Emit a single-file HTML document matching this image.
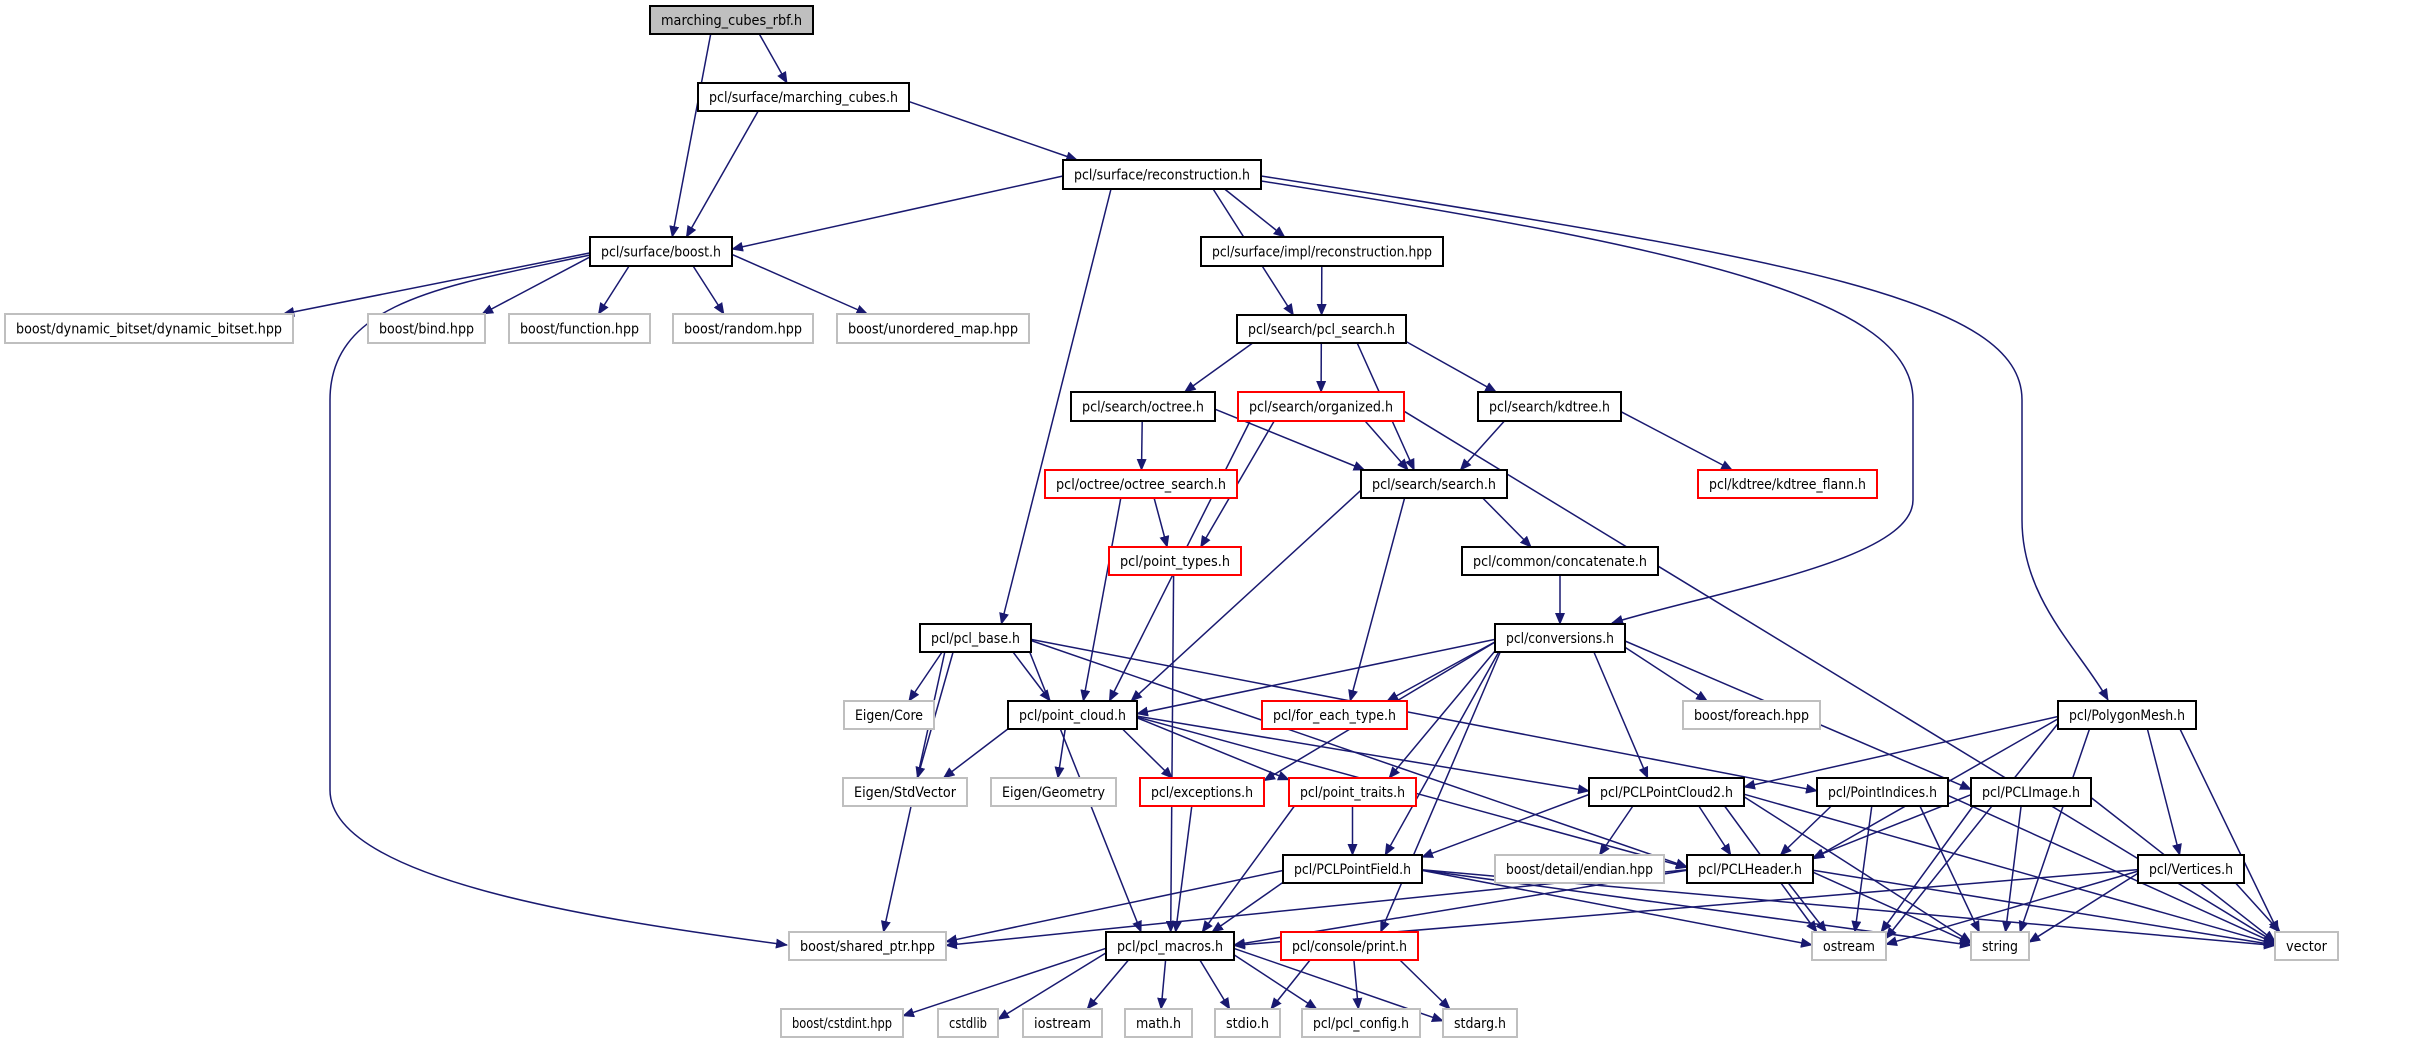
<!DOCTYPE html>
<html><head><meta charset="utf-8">
<style>
html,body{margin:0;padding:0;background:#fff;}
svg{display:block;}
text{font-family:"DejaVu Sans","Liberation Sans",sans-serif;font-size:14px;fill:#000;}
</style></head>
<body>
<svg id="g" width="2409" height="1045" viewBox="0 0 2409 1045" xmlns="http://www.w3.org/2000/svg">
<defs>
<marker id="a" markerWidth="12" markerHeight="10" refX="11" refY="5" orient="auto" markerUnits="userSpaceOnUse">
<path d="M0,0 L12,5 L0,10 Z" fill="#191970"/>
</marker>
</defs>
<g id="edges" fill="none" stroke="#191970" stroke-width="1.5"></g>
<g id="nodes"></g>
</svg>
<script>
var N={
rbf:[650,6,813,34,"marching_cubes_rbf.h","g"],
mc:[698,83,909,111,"pcl/surface/marching_cubes.h","b"],
rec:[1063,160,1261,189,"pcl/surface/reconstruction.h","b"],
bst:[590,237,732,266,"pcl/surface/boost.h","b"],
dyn:[5,314,293,343,"boost/dynamic_bitset/dynamic_bitset.hpp","x"],
bind:[368,314,485,343,"boost/bind.hpp","x"],
fun:[509,314,650,343,"boost/function.hpp","x"],
rnd:[673,314,813,343,"boost/random.hpp","x"],
um:[837,314,1029,343,"boost/unordered_map.hpp","x"],
rhpp:[1201,237,1443,266,"pcl/surface/impl/reconstruction.hpp","b"],
ps:[1237,315,1406,343,"pcl/search/pcl_search.h","b"],
oct:[1071,392,1215,421,"pcl/search/octree.h","b"],
org:[1238,392,1404,421,"pcl/search/organized.h","r"],
kdt:[1478,392,1621,421,"pcl/search/kdtree.h","b"],
ocs:[1045,470,1237,498,"pcl/octree/octree_search.h","r"],
sea:[1361,470,1507,498,"pcl/search/search.h","b"],
flann:[1698,470,1877,498,"pcl/kdtree/kdtree_flann.h","r"],
pt:[1109,547,1241,575,"pcl/point_types.h","r"],
cat:[1462,547,1658,575,"pcl/common/concatenate.h","b"],
base:[920,624,1031,652,"pcl/pcl_base.h","b"],
conv:[1495,624,1625,652,"pcl/conversions.h","b"],
ecore:[844,701,934,729,"Eigen/Core","x"],
pc:[1008,701,1137,729,"pcl/point_cloud.h","b"],
fet:[1262,701,1407,729,"pcl/for_each_type.h","r"],
fe:[1683,701,1820,729,"boost/foreach.hpp","x"],
pm:[2058,701,2196,729,"pcl/PolygonMesh.h","b"],
esv:[843,778,967,806,"Eigen/StdVector","x"],
egeo:[991,778,1116,806,"Eigen/Geometry","x"],
exc:[1140,778,1264,806,"pcl/exceptions.h","r"],
ptr:[1289,778,1416,806,"pcl/point_traits.h","r"],
pc2:[1589,778,1744,806,"pcl/PCLPointCloud2.h","b"],
pi:[1817,778,1948,806,"pcl/PointIndices.h","b"],
img:[1971,778,2091,806,"pcl/PCLImage.h","b"],
pf:[1283,855,1422,883,"pcl/PCLPointField.h","b"],
end:[1495,855,1664,883,"boost/detail/endian.hpp","x"],
hdr:[1687,855,1813,883,"pcl/PCLHeader.h","b"],
vert:[2138,855,2244,883,"pcl/Vertices.h","b"],
sp:[789,932,946,960,"boost/shared_ptr.hpp","x"],
mac:[1106,932,1234,960,"pcl/pcl_macros.h","b"],
prn:[1281,932,1418,960,"pcl/console/print.h","r"],
ost:[1812,932,1886,960,"ostream","x"],
str:[1971,932,2029,960,"string","x"],
vec:[2275,932,2338,960,"vector","x"],
cst:[781,1009,903,1037,"boost/cstdint.hpp","x"],
cstd:[938,1009,998,1037,"cstdlib","x"],
ios:[1023,1009,1102,1037,"iostream","x"],
math:[1125,1009,1192,1037,"math.h","x"],
stdio:[1215,1009,1280,1037,"stdio.h","x"],
cfg:[1302,1009,1420,1037,"pcl/pcl_config.h","x"],
sarg:[1443,1009,1517,1037,"stdarg.h","x"]
};
var E="rbf mc,rbf bst,mc bst,mc rec,rec bst,rec rhpp,rec ps,rec base,bst dyn,bst bind,bst fun,bst rnd,bst um,rhpp ps,ps oct,ps org,ps sea,ps kdt,oct ocs,oct sea,org sea,org pt,org pc,org vec,kdt sea,kdt flann,ocs pt,ocs pc,sea cat,sea pc,sea fet,pt mac,cat conv,base ecore,base pc,base esv,base sp,base mac,base pi,base hdr,conv pc,conv fet,conv fe,conv exc,conv ptr,conv pc2,conv img,conv pf,conv prn,pc esv,pc egeo,pc exc,pc ptr,pc hdr,pc pc2,exc mac,ptr pf,ptr mac,pm pc2,pm hdr,pm vert,pm ost,pm str,pm vec,pc2 pf,pc2 end,pc2 hdr,pc2 ost,pc2 str,pc2 vec,pi hdr,pi ost,pi str,pi vec,img hdr,img ost,img str,img vec,pf sp,pf mac,pf ost,pf str,pf vec,hdr sp,hdr mac,hdr ost,hdr str,hdr vec,vert mac,vert ost,vert str,vert vec,mac cst,mac cstd,mac ios,mac math,mac stdio,mac cfg,mac sarg,prn stdio,prn cfg,prn sarg".split(",");
function c(n){return [(n[0]+n[2])/2,(n[1]+n[3])/2];}
function clip(n,p,q){ // point on rect n boundary along segment from inside p toward q
 var dx=q[0]-p[0],dy=q[1]-p[1],t=1e9;
 if(dx>0)t=Math.min(t,(n[2]-p[0])/dx); if(dx<0)t=Math.min(t,(n[0]-p[0])/dx);
 if(dy>0)t=Math.min(t,(n[3]-p[1])/dy); if(dy<0)t=Math.min(t,(n[1]-p[1])/dy);
 return [p[0]+dx*t,p[1]+dy*t];}
var eg=document.getElementById('edges'),s="";
E.forEach(function(e){var k=e.split(" "),a=N[k[0]],b=N[k[1]];
 var ca=c(a),cb=c(b);
 var sx=ca[0]+(cb[0]-ca[0])*0.25; sx=Math.max(a[0]+8,Math.min(a[2]-8,sx));
 var p0=clip(a,[sx,ca[1]],cb);
 var tx=cb[0]+(ca[0]-cb[0])*0.12; tx=Math.max(b[0]+6,Math.min(b[2]-6,tx));
 var p1=clip(b,[tx,cb[1]],p0);
 s+='<path d="M'+p0[0].toFixed(1)+','+p0[1].toFixed(1)+' L'+p1[0].toFixed(1)+','+p1[1].toFixed(1)+'" marker-end="url(#a)"/>';
});
s+='<path d="M590,255 C450,285 330,300 330,400 L330,790 C330,880 600,920 787,945" marker-end="url(#a)"/>';
s+='<path d="M1261,181 C1700,250 1913,300 1913,400 L1913,500 C1913,560 1720,590 1612,623" marker-end="url(#a)"/>';
s+='<path d="M1261,176 C1800,260 2022,300 2022,400 L2022,520 C2022,600 2080,650 2108,700" marker-end="url(#a)"/>';
eg.innerHTML=s;
var ng=document.getElementById('nodes'),h="";
for(var k in N){var n=N[k];var st=n[5]=="x"?"#bfbfbf":(n[5]=="r"?"#ff0000":"#000");
 var fill=n[5]=="g"?"#bfbfbf":"#fff";
 h+='<rect x="'+n[0]+'" y="'+n[1]+'" width="'+(n[2]-n[0])+'" height="'+(n[3]-n[1])+'" fill="'+fill+'" stroke="'+st+'" stroke-width="2"/>';
 var w=n[2]-n[0]-22;
 h+='<text x="'+((n[0]+n[2])/2)+'" y="'+((n[1]+n[3])/2+5)+'" text-anchor="middle" textLength="'+w+'" lengthAdjust="spacingAndGlyphs">'+n[4]+'</text>';}
ng.innerHTML=h;
</script>
</body></html>
